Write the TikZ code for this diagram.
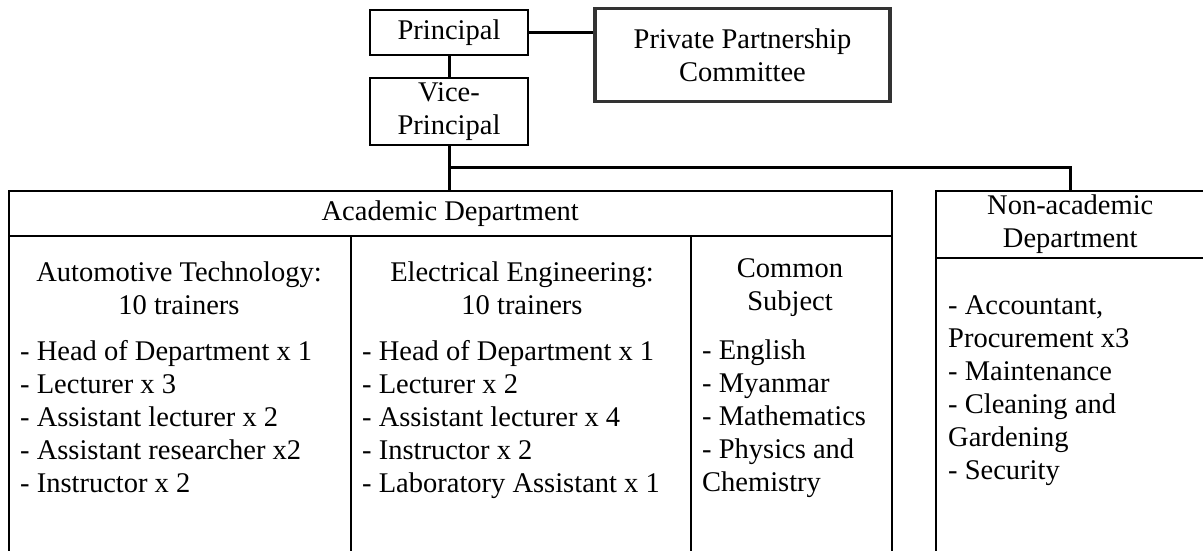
\documentclass[tikz,border=0pt]{standalone}
\usepackage{fontspec}
\setmainfont{Liberation Serif}
\begin{document}
\begin{tikzpicture}[x=1pt,y=-1pt]
    \tikzstyle{every node}=[font=\fontsize{28.5}{33}\selectfont, text=black]
    \tikzstyle{box}=[draw=black, line width=1.5pt, inner sep=0pt]
    \tikzstyle{ppcbox}=[draw=black!80, line width=3.5pt, inner sep=0pt]
    \tikzstyle{link}=[black, line width=3pt]
    \useasboundingbox (0,0) rectangle (1203,551);

    \node[box, minimum width=158, minimum height=45] (prin) at (449,32.5) {Principal};
    \node[box, align=center, minimum width=158, minimum height=67] (vice) at (449,111.5) {Vice-\\Principal};
    \node[ppcbox, align=center, minimum width=295, minimum height=93] (ppc) at (742.5,55) {Private Partnership\\Committee};

    \node[box, anchor=north west, minimum width=883, minimum height=45] (acadhead) at (8,190) {Academic Department};
    \node[box, anchor=north west, minimum width=342, minimum height=330] (autocol) at (8,235) {};
    \node[box, anchor=north west, minimum width=340, minimum height=330] (eleccol) at (350,235) {};
    \node[box, anchor=north west, minimum width=201, minimum height=330] (commcol) at (690,235) {};
    \node[box, align=center, anchor=north west, minimum width=269, minimum height=67] (nonhead) at (935,190) {Non-academic\\Department};
    \node[box, anchor=north west, minimum width=269, minimum height=308] (noncol) at (935,257) {};

    \node[align=center] (autotitle) at (179,288) {Automotive Technology:\\10 trainers};
    \node[align=center] (electitle) at (522,288) {Electrical Engineering:\\10 trainers};
    \node[align=center] (commtitle) at (790,288) {Common\\Subject};

    \tikzstyle{every node}=[font=\fontsize{28.5}{33}\selectfont, text=black, anchor=north west, align=left, inner sep=0pt]
    \node (autolist) at (20,340) {- Head of Department x 1\\- Lecturer x 3\\- Assistant lecturer x 2\\- Assistant researcher x2\\- Instructor x 2};
    \node (eleclist) at (362,340) {- Head of Department x 1\\- Lecturer x 2\\- Assistant lecturer x 4\\- Instructor x 2\\- Laboratory Assistant x 1};
    \node (commlist) at (702,340) {- English\\- Myanmar\\- Mathematics\\- Physics and\\Chemistry};
    \node (nonlist) at (948,295) {- Accountant,\\Procurement x3\\- Maintenance\\- Cleaning and\\Gardening\\- Security};

    \draw[link] (prin.east) -- (prin.east -| ppc.west);
    \draw[link] (prin) -- (vice);
    \draw[link] (vice.south) -- (vice.south |- acadhead.north);
    \coordinate (bus) at (449,167);
    \draw[link] (bus) -| (nonhead.north);
\end{tikzpicture}
\end{document}
